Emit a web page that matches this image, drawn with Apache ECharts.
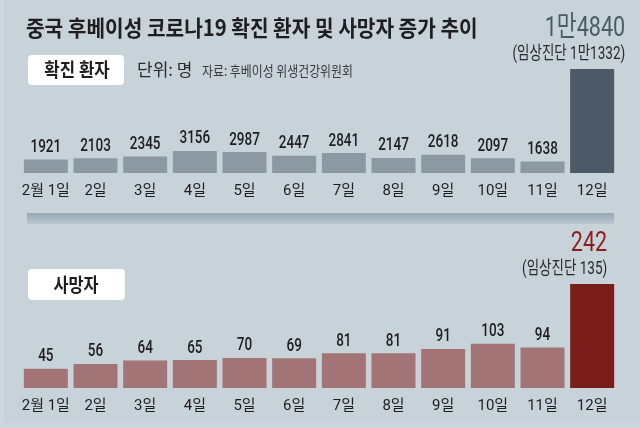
<!DOCTYPE html>
<html>
<head>
<meta charset="utf-8">
<script src="https://cdn.jsdelivr.net/npm/echarts@6/dist/echarts.min.js"></script>
<style>html,body{margin:0;padding:0;background:#c8d2d9;}#c{width:640px;height:428px;}</style>
</head>
<body>
<div id="c"></div>
<script>
const categories = ['2월 1일','2일','3일','4일','5일','6일','7일','8일','9일','10일','11일','12일'];
const confirmed = [1921, 2103, 2345, 3156, 2987, 2447, 2841, 2147, 2618, 2097, 1638, 14840];
const confirmedClinical = 11332;
const deaths = [45, 56, 64, 65, 70, 69, 81, 81, 91, 103, 94, 242];
const deathsClinical = 135;

const NUM = "Roboto, 'Noto Sans CJK KR', sans-serif";
const KR = "'Noto Sans CJK KR', sans-serif";

function fmtKo(n) {
  return n >= 10000 ? Math.floor(n / 10000) + '만' + (n % 10000) : String(n);
}

function txt(x, y, scaleX, text, size, color, align, valign, family, weight) {
  const fam = family || NUM;
  const w = weight || 'normal';
  return {
    type: 'text', x: x, y: y, scaleX: scaleX,
    style: {
      text: text, x: 0, y: 0,
      font: w + ' ' + size + 'px ' + fam,
      fill: color, align: align, verticalAlign: valign
    }
  };
}

function labelRenderer(values, bigColor, clinical, rightOffset) {
  const last = values.length - 1;
  return function (params, api) {
    const i = api.value(0), v = api.value(1);
    const p = api.coord([i, v]);
    if (params.dataIndex !== last) {
      return txt(p[0], p[1] - 3, 0.75, String(v), 18, '#1e1e1e', 'center', 'bottom', NUM, '500');
    }
    const rx = p[0] + rightOffset;
    return {
      type: 'group',
      children: [
        txt(rx, p[1] - 40, 0.77, fmtKo(v), 28, bigColor, 'right', 'middle'),
        txt(rx, p[1] - 15, 0.75, '(임상진단 ' + fmtKo(clinical) + ')', 18, '#2a2a2a', 'right', 'middle')
      ]
    };
  };
}

const axisLabel = { color: '#1e1e1e', fontSize: 15, fontFamily: NUM, margin: 11, interval: 0 };

const chart = echarts.init(document.getElementById('c'));
chart.setOption({
  backgroundColor: '#c8d2d9',
  animation: false,
  grid: [
    { left: 21, right: 23, top: 69, bottom: 255 },
    { left: 21, right: 23, top: 284, bottom: 40 }
  ],
  xAxis: [
    { type: 'category', gridIndex: 0, data: categories, axisLine: { show: false }, axisTick: { show: false }, axisLabel: axisLabel },
    { type: 'category', gridIndex: 1, data: categories, axisLine: { show: false }, axisTick: { show: false }, axisLabel: axisLabel }
  ],
  yAxis: [
    { type: 'value', gridIndex: 0, min: 0, max: Math.max(...confirmed), show: false, splitLine: { show: false } },
    { type: 'value', gridIndex: 1, min: 0, max: Math.max(...deaths), show: false, splitLine: { show: false } }
  ],
  series: [
    {
      name: '확진 환자', type: 'bar', xAxisIndex: 0, yAxisIndex: 0, barWidth: 44,
      data: confirmed.map((v, i) => ({ value: v, itemStyle: { color: i === confirmed.length - 1 ? '#4b5a66' : '#8c99a3' } }))
    },
    {
      name: '사망자', type: 'bar', xAxisIndex: 1, yAxisIndex: 1, barWidth: 44,
      data: deaths.map((v, i) => ({ value: v, itemStyle: { color: i === deaths.length - 1 ? '#7b1d1a' : '#a37475' } }))
    },
    {
      type: 'custom', xAxisIndex: 0, yAxisIndex: 0, silent: true,
      renderItem: labelRenderer(confirmed, '#4b5a66', confirmedClinical, 33),
      data: confirmed.map((v, i) => [i, v])
    },
    {
      type: 'custom', xAxisIndex: 1, yAxisIndex: 1, silent: true,
      renderItem: labelRenderer(deaths, '#8b1d1d', deathsClinical, 15),
      data: deaths.map((v, i) => [i, v])
    }
  ],
  graphic: [
    { type: 'rect', shape: { x: 0, y: 0, width: 4, height: 428 }, style: { fill: '#ced7dd' }, z: -10 },
    { type: 'rect', shape: { x: 0, y: 423, width: 640, height: 5 }, style: { fill: '#ced7dd' }, z: -10 },
    txt(26, 28, 0.92, '중국 후베이성 코로나19 확진 환자 및 사망자 증가 추이', 22, '#1e1e1e', 'left', 'middle', KR, 'bold'),
    { type: 'rect', shape: { x: 28, y: 55, width: 96, height: 30, r: 4 }, style: { fill: '#ffffff' } },
    txt(77, 70, 0.88, '확진 환자', 19, '#1e1e1e', 'center', 'middle', KR, 'bold'),
    txt(137, 70, 1.0, '단위: 명', 17, '#2a2a2a', 'left', 'middle', KR),
    txt(202, 71, 0.85, '자료: 후베이성 위생건강위원회', 14, '#3a3a3a', 'left', 'middle', KR),
    { type: 'rect', shape: { x: 27, y: 213, width: 587, height: 11 },
      style: { fill: new echarts.graphic.LinearGradient(0, 0, 0, 1, [{ offset: 0, color: '#96a7b4' }, { offset: 1, color: '#bac7d0' }]) } },
    { type: 'rect', shape: { x: 28, y: 269, width: 97, height: 31, r: 4 }, style: { fill: '#ffffff' } },
    txt(76, 285, 0.86, '사망자', 19, '#1e1e1e', 'center', 'middle', KR, 'bold')
  ]
});
</script>
</body>
</html>
